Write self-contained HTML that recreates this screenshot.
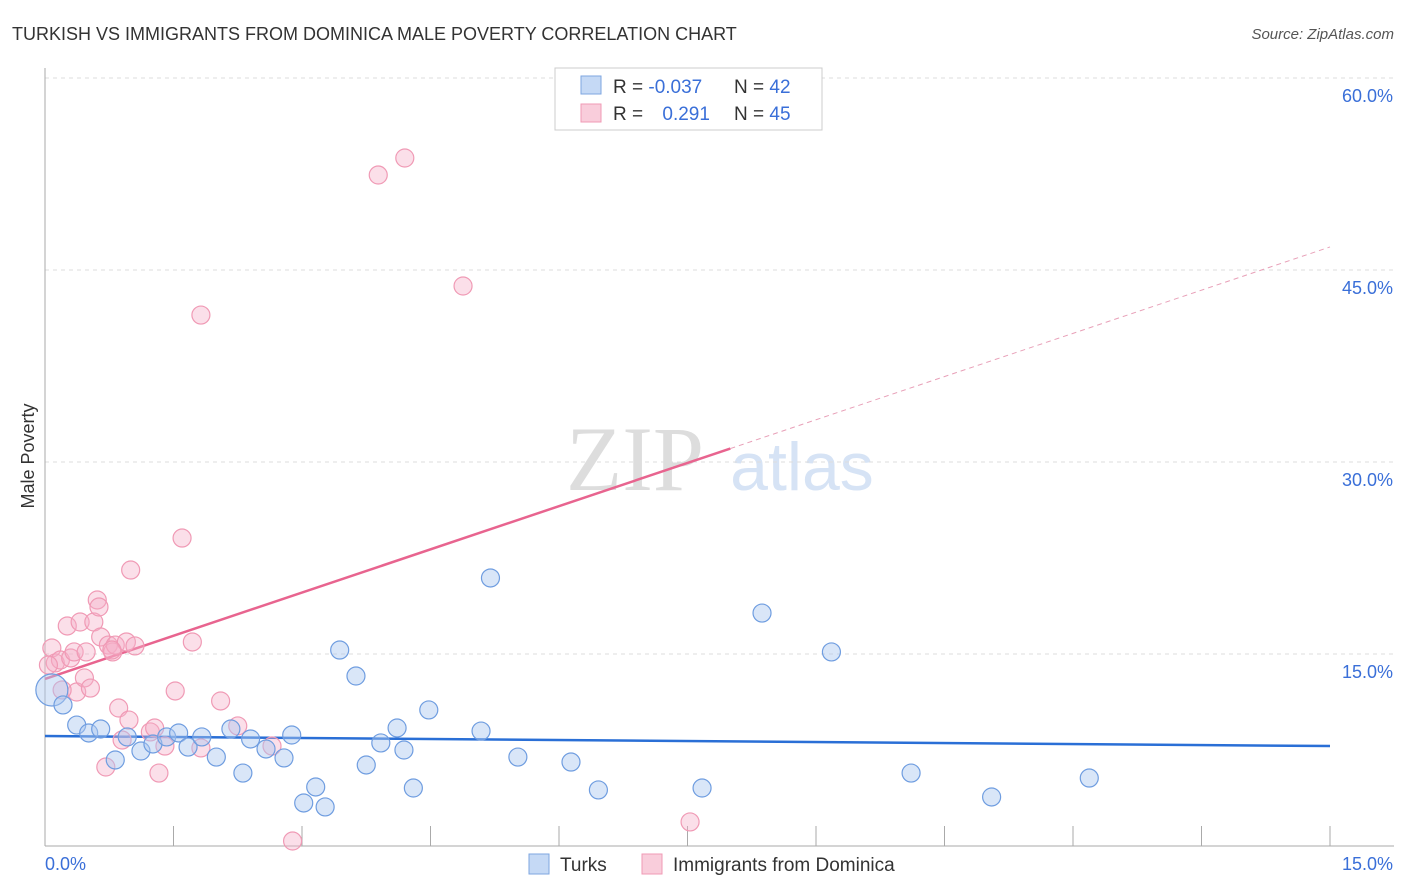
<!DOCTYPE html>
<html><head><meta charset="utf-8">
<style>
body{margin:0;background:#fff;font-family:"Liberation Sans",sans-serif;}
svg{display:block}
</style></head><body>
<svg id="chart" width="1406" height="892">
<text x="12" y="40" font-size="18" fill="#333">TURKISH VS IMMIGRANTS FROM DOMINICA MALE POVERTY CORRELATION CHART</text>
<text x="1394" y="39" font-size="15" fill="#555" font-style="italic" text-anchor="end">Source: ZipAtlas.com</text>
<text transform="translate(34,456) rotate(-90)" font-size="18" fill="#333" text-anchor="middle">Male Poverty</text>
<g>
<text x="635" y="490" font-size="92" fill="#ddd" font-family="Liberation Serif,serif" text-anchor="middle">ZIP</text>
<text x="802" y="490" font-size="68" fill="#d6e3f5" text-anchor="middle">atlas</text>
</g>
<g id="grid"></g><g id="axes"></g><g id="trend"></g><g id="pts"></g>
<g>
<rect x="555" y="68" width="267" height="62" fill="#fff" stroke="#ccc"/>
<rect x="581" y="76" width="20" height="18" fill="#c5d9f5" stroke="#7ea6e0"/>
<rect x="581" y="104" width="20" height="18" fill="#f9cddb" stroke="#f09ab5"/>
<text x="613" y="93" font-size="19" fill="#333">R = <tspan fill="#3a6fd8">-0.037</tspan></text>
<text x="734" y="93" font-size="19" fill="#333">N = <tspan fill="#3a6fd8">42</tspan></text>
<text x="613" y="120" font-size="19" fill="#333">R = <tspan fill="#3a6fd8" dx="14">0.291</tspan></text>
<text x="734" y="120" font-size="19" fill="#333">N = <tspan fill="#3a6fd8">45</tspan></text>
</g>
<g>
<rect x="529" y="854" width="20" height="20" fill="#c5d9f5" stroke="#7ea6e0"/>
<text x="560" y="871" font-size="19" fill="#333">Turks</text>
<rect x="642" y="854" width="20" height="20" fill="#f9cddb" stroke="#f09ab5"/>
<text x="673" y="871" font-size="19" fill="#333">Immigrants from Dominica</text>
</g>
</svg>
<script>
const yTicks=[15,30,45,60];
const xTickLabels=["0.0%","15.0%"];
const turksX=[0.08,0.21,0.37,0.51,0.65,0.82,0.96,1.12,1.26,1.42,1.56,1.67,1.83,2.00,2.17,2.31,2.40,2.58,2.79,2.88,3.02,3.16,3.27,3.44,3.63,3.75,3.92,4.11,4.19,4.30,4.48,5.09,5.20,5.52,6.14,6.46,7.67,8.37,9.18,10.11,11.05,12.19];
const turksY=[12.19,11.02,9.45,8.83,9.14,6.72,8.52,7.42,7.97,8.52,8.83,7.73,8.52,6.95,9.14,5.70,8.36,7.58,6.88,8.67,3.36,4.61,3.05,15.31,13.28,6.33,8.05,9.22,7.50,4.53,10.63,8.98,20.94,6.95,6.56,4.38,4.53,18.20,15.16,5.70,3.83,5.31];
const domX=[0.08,0.12,0.18,0.26,0.30,0.34,0.37,0.41,0.46,0.48,0.53,0.57,0.61,0.63,0.65,0.71,0.74,0.79,0.82,0.86,0.90,0.95,0.98,1.00,1.05,1.23,1.28,1.33,1.40,1.52,1.60,1.72,1.82,1.82,2.05,2.25,2.65,2.89,3.89,4.20,4.88,7.53,0.04,0.20,0.78];
const domY=[15.47,14.30,14.53,17.19,14.69,15.16,12.03,17.50,13.13,15.16,12.34,17.50,19.22,18.67,16.33,6.17,15.70,15.16,15.70,10.78,8.28,15.94,9.84,21.56,15.63,8.91,9.22,5.70,7.81,12.11,24.06,15.94,41.48,7.66,11.33,9.38,7.81,0.39,52.42,53.75,43.75,1.88,14.14,12.19,15.31];
const turksTrend=[8.59,7.81];
const domTrend=[13.05,46.8];
const domSolidEnd=8.0;

const NS="http://www.w3.org/2000/svg";
const X=v=>45+v/15*1285, Y=v=>846-v*12.8;
function mk(tag,attrs,parent){const e=document.createElementNS(NS,tag);for(const k in attrs)e.setAttribute(k,attrs[k]);document.getElementById(parent).appendChild(e);return e;}
yTicks.forEach(t=>{
 const l=mk('line',{x1:45,x2:1394,y1:Y(t),y2:Y(t),stroke:'#ddd','stroke-dasharray':'4,4'},'grid');
 
 
 const tx=mk('text',{x:1393,y:Y(t)+24,'font-size':18,fill:'#3a6fd8','text-anchor':'end'},'grid');tx.textContent=t.toFixed(1)+'%';
 
 
});
const ax=mk('line',{x1:45,x2:45,y1:68,y2:846,stroke:'#aaa'},'axes');


const bx=mk('line',{x1:45,x2:1394,y1:846,y2:846,stroke:'#aaa'},'axes');


for(let i=0;i<=10;i++){const t=mk('line',{x1:X(i*1.5),x2:X(i*1.5),y1:826,y2:846,stroke:'#aaa'},'axes');
 
 }
[[0,45,'start'],[15,1393,'end']].forEach((a,i)=>{const t=mk('text',{x:a[1],y:870,'font-size':18,fill:'#3a6fd8','text-anchor':a[2]},'axes');t.textContent=xTickLabels[i];
 
 });
function pts(xs,ys,fill,stroke,name){xs.forEach((x,i)=>{const r=(i===0&&name==='turks-point')?16:9;
 const c=mk('circle',{cx:X(x),cy:Y(ys[i]),r:r,fill:fill,stroke:stroke,'stroke-width':1.2},'pts');
 
 });}
pts(domX,domY,'rgba(246,176,200,0.4)','#f09ab5','dominica-point');
pts(turksX,turksY,'rgba(170,200,240,0.45)','#6f9de0','turks-point');
const tl=mk('line',{x1:X(0),y1:Y(turksTrend[0]),x2:X(15),y2:Y(turksTrend[1]),stroke:'#2a6fd6','stroke-width':2.5},'trend');


const dAt=x=>domTrend[0]+(domTrend[1]-domTrend[0])*x/15;
const ds=mk('line',{x1:X(0),y1:Y(dAt(0)),x2:X(domSolidEnd),y2:Y(dAt(domSolidEnd)),stroke:'#e8648f','stroke-width':2.5},'trend');


const dd=mk('line',{x1:X(domSolidEnd),y1:Y(dAt(domSolidEnd)),x2:X(15),y2:Y(dAt(15)),stroke:'#e8a0b8','stroke-width':1,'stroke-dasharray':'5,4'},'trend');


</script>
</body></html>
